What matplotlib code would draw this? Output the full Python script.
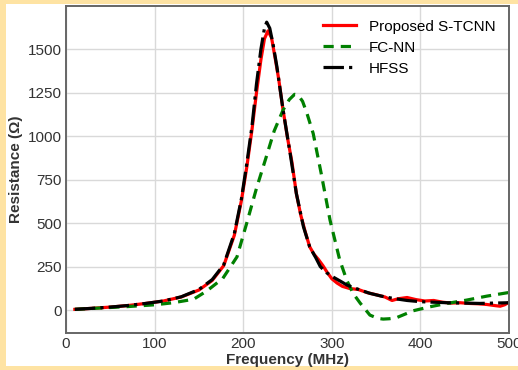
import matplotlib
matplotlib.use('Agg')
import matplotlib.pyplot as plt
from matplotlib.patches import Rectangle

# данные (частота в МГц, сопротивление в Ом)
f_prop = [10, 30, 50, 70, 90, 110, 130, 150, 165, 178, 190, 198, 204, 210, 215, 220, 224, 228,
          232, 236, 240, 245, 250, 255, 260, 265, 270, 275, 280, 285, 290, 295, 300, 306, 312,
          320, 330, 340, 350, 360, 368, 375, 385, 395, 405, 415, 425, 435, 445, 455, 465, 475,
          485, 490, 495, 500]
r_prop = [4, 10, 17, 26, 38, 52, 75, 115, 170, 255, 430, 630, 820, 1040, 1250, 1440, 1560, 1605,
          1565, 1450, 1330, 1150, 990, 850, 670, 545, 450, 364, 320, 290, 255, 215, 180, 155, 136,
          124, 118, 100, 88, 75, 55, 65, 72, 60, 52, 55, 45, 40, 42, 38, 36, 32, 25, 22, 30, 45]

f_fcnn = [10, 40, 70, 100, 121, 144, 159, 177, 193, 204, 215, 226, 235, 245, 252, 258, 262, 267,
          272, 279, 288, 298, 309, 317, 324, 332, 343, 352, 358, 365, 373, 382, 392, 411, 430,
          452, 475, 500]
r_fcnn = [4, 12, 20, 30, 42, 62, 110, 182, 306, 500, 700, 880, 1030, 1150, 1210, 1240, 1236, 1200,
          1130, 1015, 786, 517, 287, 170, 96, 40, -29, -48, -52, -50, -44, -25, -4, 19, 38,
          57, 80, 101]

f_hfss = [10, 30, 50, 70, 90, 110, 130, 150, 165, 178, 190, 198, 204, 210, 215, 220, 224, 226.5,
          230, 234, 238, 245, 253, 260, 268, 275, 282, 287, 294, 301, 310, 317, 332, 343, 356,
          369, 385, 400, 430, 467, 500]
r_hfss = [4, 10, 17, 26, 38, 52, 76, 118, 175, 260, 440, 640, 840, 1060, 1300, 1500, 1620, 1655,
          1620, 1520, 1400, 1150, 900, 670, 479, 364, 300, 250, 215, 191, 165, 144, 115, 96, 80,
          67, 55, 48, 42, 38, 42]

plt.rcParams['font.family'] = ['Liberation Sans', 'DejaVu Sans']

fig = plt.figure(figsize=(5.18, 3.70), dpi=100, facecolor='#fee3a3')
# белая подложка внутри жёлтой рамки
fig.patches.append(Rectangle((6 / 518, 4 / 370), 1, 362 / 370, transform=fig.transFigure,
                             facecolor='white', edgecolor='none', zorder=-5))
ax = fig.add_axes([66 / 518, 1 - 333 / 370, 443 / 518, 327 / 370])
ax.set_zorder(2)

ax.plot(f_prop, r_prop, color='red', lw=2.3, label='Proposed S-TCNN')
ax.plot(f_fcnn, r_fcnn, color='green', lw=2.3, dashes=(3.2, 2.2), label='FC-NN')
ax.plot(f_hfss, r_hfss, color='black', lw=2.3, linestyle='-.', label='HFSS')

ax.set_xlim(0, 500)
ax.set_ylim(-132, 1748)
ax.set_xticks([0, 100, 200, 300, 400, 500])
ax.set_yticks([0, 250, 500, 750, 1000, 1250, 1500])
ax.grid(True, color='#d9d9d9', lw=1)
ax.set_axisbelow(True)
ax.tick_params(length=0, labelsize=11, labelcolor='#333333', pad=3)
for s in ax.spines.values():
    s.set_color('#666666')
    s.set_linewidth(1.4)

ax.set_xlabel('Frequency (MHz)', fontsize=11, fontweight='bold', color='#333333')
ax.set_ylabel('Resistance (Ω)', fontsize=11, fontweight='bold', color='#333333')
ax.yaxis.set_label_coords(-0.097, 0.5)
ax.xaxis.set_label_coords(0.5, -0.06)
ax.legend(loc='upper right', frameon=False, fontsize=11, handlelength=2.2, labelspacing=0.45)

fig.savefig('out.png', dpi=100, facecolor=fig.get_facecolor())
